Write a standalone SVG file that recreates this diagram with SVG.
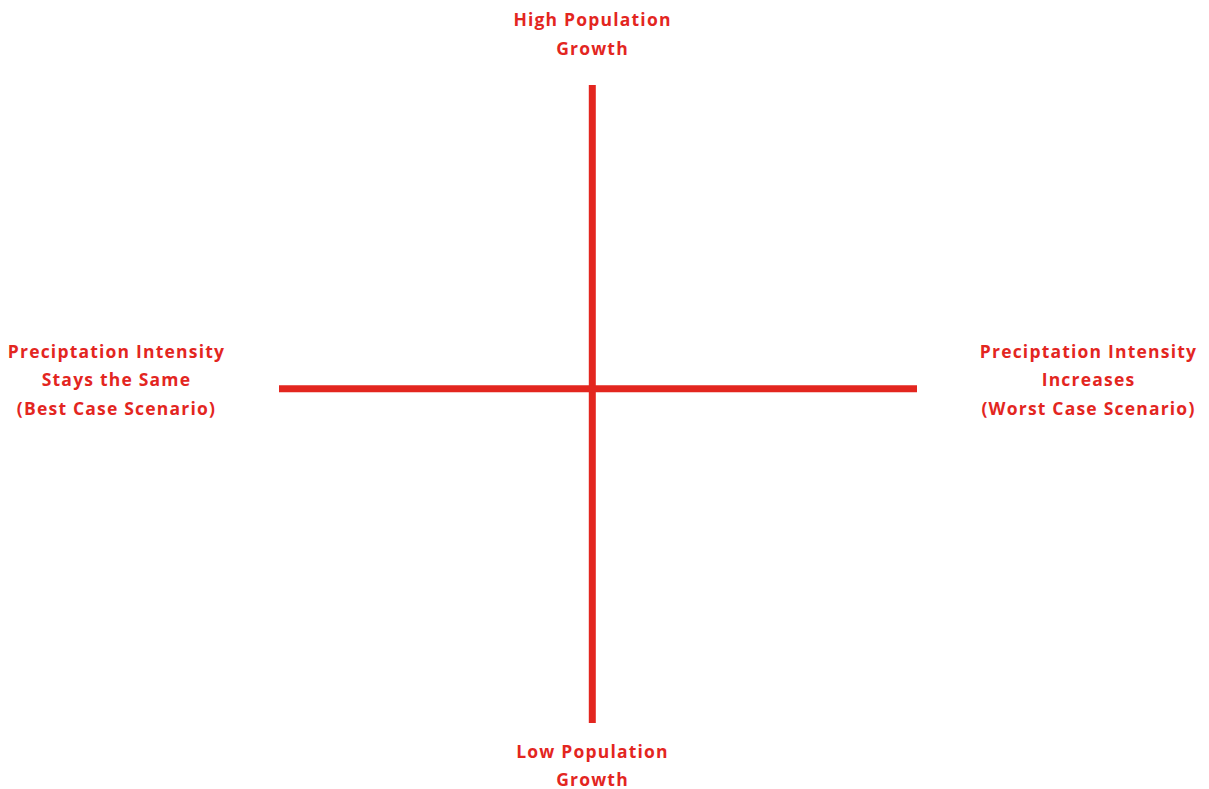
<svg xmlns="http://www.w3.org/2000/svg" width="1209" height="789" viewBox="0 0 1209 789">
<style>
.lbl{font-family:"Open Sans","Liberation Sans",sans-serif;font-weight:700;font-size:17.5px;fill:#e3261f;text-anchor:middle;letter-spacing:1.2px}
.ax{stroke:#e3261f;stroke-width:7;fill:none}
</style>
<rect width="1209" height="789" fill="#fff"/>
<g id="connectors">
<line class="ax" x1="592.3" y1="85" x2="592.3" y2="723"/>
<line class="ax" x1="279" y1="388.7" x2="917" y2="388.7"/>
</g>
<g id="top"><text class="lbl" x="592.5" y="26">High Population</text><text class="lbl" x="592.5" y="55">Growth</text></g>
<g id="left"><text class="lbl" x="116.5" y="358">Preciptation Intensity</text><text class="lbl" x="116.5" y="386">Stays the Same</text><text class="lbl" x="116.5" y="415">(Best Case Scenario)</text></g>
<g id="right"><text class="lbl" x="1088.5" y="358">Preciptation Intensity</text><text class="lbl" x="1088.5" y="386">Increases</text><text class="lbl" x="1088.5" y="415">(Worst Case Scenario)</text></g>
<g id="bottom"><text class="lbl" x="592.5" y="758">Low Population</text><text class="lbl" x="592.5" y="786">Growth</text></g>
</svg>
